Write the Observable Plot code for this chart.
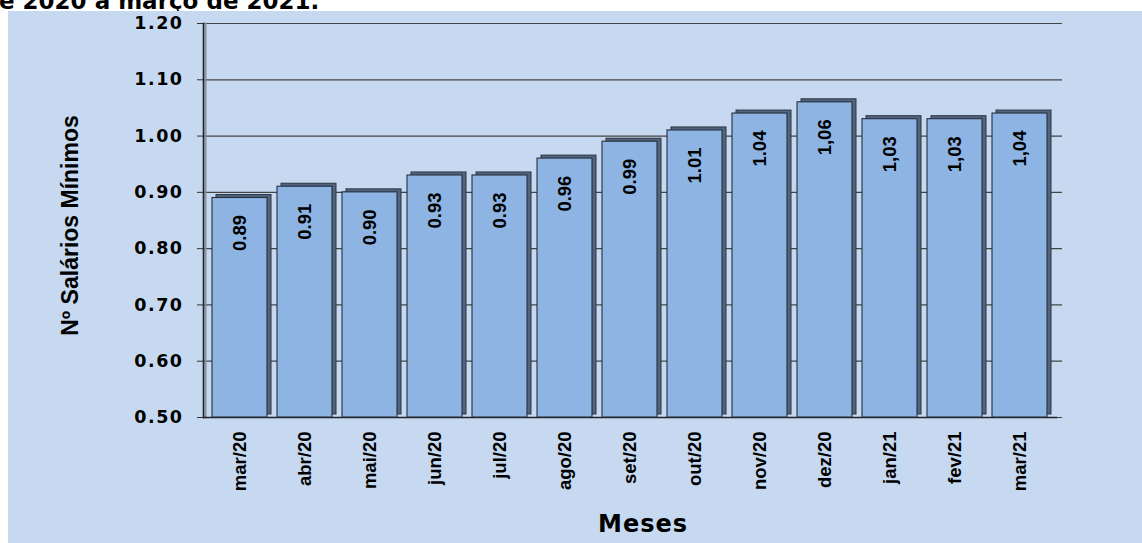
<!DOCTYPE html>
<html><head><meta charset="utf-8">
<script src="https://cdn.jsdelivr.net/npm/d3@7"></script>
<script src="https://cdn.jsdelivr.net/npm/@observablehq/plot@0.6"></script>
<style>
html,body{margin:0;padding:0;background:#fff;width:1142px;height:543px;overflow:hidden;position:relative}
#title{position:absolute;left:-1px;top:-10px;font-family:"DejaVu Sans";font-weight:bold;font-size:23px;line-height:23px;white-space:nowrap;color:#000}
#panel{position:absolute;left:8px;top:11px;width:1134px;height:532px;background:#c6d9f0}
.chart g[aria-label="y-axis tick label"] text{letter-spacing:1.5px}
.chart g.xtitle text{letter-spacing:1px}
</style></head><body>
<div id="title"></div>
<div id="panel"></div>
<script>
const titleText = "e 2020 a março de 2021.";
const months = ["mar/20","abr/20","mai/20","jun/20","jul/20","ago/20","set/20","out/20","nov/20","dez/20","jan/21","fev/21","mar/21"];
const values = [0.89,0.91,0.90,0.93,0.93,0.96,0.99,1.01,1.04,1.06,1.03,1.03,1.04];
const valueLabels = ["0.89","0.91","0.90","0.93","0.93","0.96","0.99","1.01","1.04","1,06","1,03","1,03","1,04"];
const yTicks = [0.5,0.6,0.7,0.8,0.9,1.0,1.1,1.2];
const yTickLabels = ["0.50","0.60","0.70","0.80","0.90","1.00","1.10","1.20"];
const yTitle = "Nº Salários Mínimos";
const xTitle = "Meses";

document.getElementById("title").textContent = titleText;

const data = months.map((m, i) => ({month: m, value: values[i], label: valueLabels[i]}));
const base = yTicks[0];

const chart = Plot.plot({
  width: 1134, height: 532,
  marginLeft: 195, marginRight: 86, marginTop: 12, marginBottom: 126,
  className: "chart",
  style: {background: "transparent", overflow: "visible"},
  x: {domain: months, paddingInner: 0.16, paddingOuter: 0.08, axis: null},
  y: {domain: [0.5, 1.2], axis: null},
  marks: [
    Plot.ruleY(yTicks, {stroke: "#444", strokeWidth: 1.2, insetRight: -6}),
    Plot.frame({anchor: "left", stroke: "#8593a6", strokeWidth: 2, dx: 2}),
    Plot.frame({anchor: "left", stroke: "#222", strokeWidth: 1.6}),
    Plot.frame({anchor: "bottom", stroke: "#222", strokeWidth: 1.4}),
    Plot.barY(data, {x: "month", y1: base, y2: "value", fill: "#52647e", stroke: "#2c3644", strokeWidth: 1, dx: 4, dy: -3}),
    Plot.barY(data, {x: "month", y1: base, y2: "value", fill: "#8db4e2", stroke: "#26303d", strokeWidth: 1.1}),
    Plot.text(data, {x: "month", y: "value", text: "label", rotate: -90, textAnchor: "end", dy: 17,
      fontSize: 18.5, fontFamily: "Liberation Sans", fontWeight: "bold", fill: "#000"}),
    Plot.axisY(yTicks, {anchor: "left", tickSize: 6, tickPadding: 14, stroke: "#333",
      tickFormat: d => yTickLabels[yTicks.indexOf(d)], label: null,
      fontSize: 17.5, fontFamily: "DejaVu Sans", fontWeight: "bold", fill: "#000"}),
    Plot.axisX(months, {anchor: "bottom", tickSize: 0, tickPadding: 14, tickRotate: -90, label: null,
      fontSize: 18.5, fontFamily: "Liberation Sans", fontWeight: "bold", fill: "#000"}),
    Plot.text([yTitle], {frameAnchor: "left", textAnchor: "middle", rotate: -90, dx: -132.5, dy: 5,
      fontSize: 23, fontFamily: "Liberation Sans", fontWeight: "bold", fill: "#000"}),
    Plot.text([xTitle], {frameAnchor: "bottom", lineAnchor: "middle", textAnchor: "middle", dx: 13, dy: 107,
      className: "xtitle", fontSize: 24, fontFamily: "DejaVu Sans", fontWeight: "bold", fill: "#000"})
  ]
});
document.getElementById("panel").appendChild(chart);
</script>
</body></html>
